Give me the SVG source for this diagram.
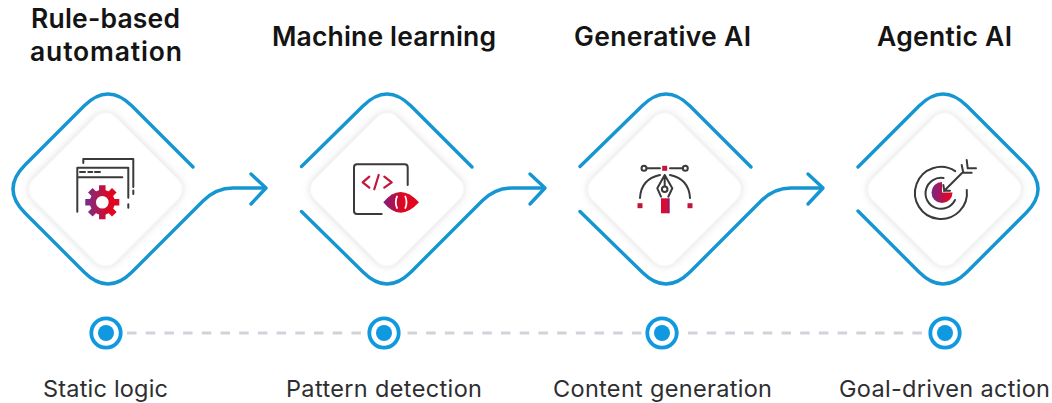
<svg xmlns="http://www.w3.org/2000/svg" width="1052" height="403" viewBox="0 0 1052 403">
<style>
.o{fill:none;stroke:#1596d2;stroke-width:3.4;stroke-linecap:round;stroke-linejoin:round}
.d{fill:none;stroke:#cfd3da;stroke-width:3;stroke-dasharray:9.5 9.2}
.r{fill:#fff;stroke:#0f99e0;stroke-width:3.8}
.c{fill:#0f99e0}
.k{fill:none;stroke:#3a3a3c;stroke-width:2;stroke-linecap:round;stroke-linejoin:round}
.h{fill:#fff;filter:url(#s)}
.t{font-family:"Inter","Liberation Sans",sans-serif;font-weight:600;font-size:26.5px;fill:#141414}
.b{font-family:"Inter","Liberation Sans",sans-serif;font-weight:400;font-size:23.5px;fill:#2e2e30}
.m{fill:#c4163c}
.n{fill:none;stroke:#c4163c;stroke-width:2.2;stroke-linecap:round;stroke-linejoin:round}
</style>
<defs>
<filter id="s" x="-30%" y="-30%" width="160%" height="160%"><feDropShadow dx="0" dy="0" stdDeviation="4" flood-color="#000" flood-opacity=".17"/></filter>
<linearGradient id="g1" gradientUnits="userSpaceOnUse" x1="85" y1="0" x2="120" y2="0"><stop offset="0" stop-color="#6f3190"/><stop offset=".7" stop-color="#e0061f"/></linearGradient>
<linearGradient id="g2" gradientUnits="userSpaceOnUse" x1="383" y1="0" x2="419" y2="0"><stop offset="0" stop-color="#7a1f7e"/><stop offset=".55" stop-color="#e0061f"/></linearGradient>
<linearGradient id="g3" gradientUnits="userSpaceOnUse" x1="661" y1="0" x2="670" y2="0"><stop offset="0" stop-color="#e0062a"/><stop offset=".6" stop-color="#d0103c"/><stop offset="1" stop-color="#7a1f7e"/></linearGradient>
<linearGradient id="g4" gradientUnits="userSpaceOnUse" x1="931" y1="0" x2="953" y2="0"><stop offset="0" stop-color="#6f2a8a"/><stop offset=".8" stop-color="#e0062a"/></linearGradient>
</defs>
<rect width="1052" height="403" fill="#fff"/>
<g id="connectors">
<path class="d" d="M127 333H930"/>
<path class="o" d="M193 167L132 106Q108 82 84 106L25 165Q1 189 25 213L84 272Q108 296 132 272L203 201Q216 188 233 188L265 188"/>
<path class="o" d="M251 174L266 188L251 204"/>
<path class="o" d="M301.500 166.500L363 106Q387 82 411 106L472 167M301.500 211.500L363 272Q387 296 411 272L482 201Q495 188 512 188L544 188"/>
<path class="o" d="M530 174L545 188L530 204"/>
<path class="o" d="M580 166.500L642 106Q666 82 690 106L751 167M580 211.500L642 272Q666 296 690 272L761 201Q774 188 791 188L822 188"/>
<path class="o" d="M808 174L823 188L808 204"/>
<path class="o" d="M858 167L919 106Q943 82 967 106L1026 165Q1050 189 1026 213L967 272Q943 296 919 272L858 211"/>
</g>
<g id="node-rule-based">
<rect class="h" x="47.600" y="131.600" width="115.700" height="115.700" rx="14" transform="rotate(45 105.500 189.500)"/>
<path class="k" d="M83.300 163V159H133.300V187M133.300 190.500V194M77.300 211.700V167.700H128.300V197.700M128.300 204.300V207.700M77.300 177.300H122.300M80 172H85M88.300 172H92.300M95 172H100"/>
<g stroke="url(#g1)" stroke-width="6.500"><path d="M85.300 202.300H119.300M102.300 185.300V219.300M90.300 190.300L114.300 214.300M90.300 214.300L114.300 190.300"/></g>
<circle cx="102.300" cy="202.300" r="12.500" fill="url(#g1)"/><circle cx="102.300" cy="202.300" r="6.300" fill="#fff"/>
<text class="t" x="31" y="28" textLength="149">Rule-based</text>
<text class="t" x="30" y="61" textLength="152">automation</text>
<circle class="r" cx="106" cy="333" r="14.700"/><circle class="c" cx="106" cy="333" r="8"/>
<text class="b" x="43" y="397" textLength="125">Static logic</text>
</g>
<g id="node-machine-learning">
<rect class="h" x="329.100" y="131.600" width="115.700" height="115.700" rx="14" transform="rotate(45 387 189.500)"/>
<path class="k" d="M407.700 185V167.300Q407.700 164.300 404.700 164.300H357Q354 164.300 354 167.300V211Q354 214 357 214H381.700"/>
<path class="n" d="M369.300 176.700L362.700 182.300L369.300 187.700M378.700 175L374.300 189.300M384.300 176.700L391.700 182.300L384.300 187.700"/>
<path fill="url(#g2)" d="M383.300 202.300Q400 181.500 419 202.300Q400 223 383.300 202.300Z"/>
<path fill="none" stroke="#fff" stroke-width="1.800" stroke-linecap="round" d="M397 196.500Q394.500 202.300 397 208M405.300 196.500Q407.800 202.300 405.300 208"/>
<text class="t" x="272" y="46" textLength="224">Machine learning</text>
<circle class="r" cx="384" cy="333" r="14.700"/><circle class="c" cx="384" cy="333" r="8"/>
<text class="b" x="286" y="397" textLength="196">Pattern detection</text>
</g>
<g id="node-generative-ai">
<rect class="h" x="606.600" y="131.600" width="115.700" height="115.700" rx="14" transform="rotate(45 664.500 189.500)"/>
<path class="k" d="M646.700 168.300H660M670 168.300H682.300M640 198Q641 179 660 175M670 175Q689 179 690 198M664.700 175L657.300 188.300L661 196.700M664.700 175L672.300 188.300L668.300 196.700M664.700 175V186"/>
<circle class="k" cx="644" cy="168.300" r="2.500"/><circle class="k" cx="685.300" cy="168.300" r="2.500"/><circle class="k" cx="664.700" cy="189.300" r="2.800"/>
<rect class="m" x="662.200" y="165.800" width="5" height="5"/><rect class="m" x="637.500" y="203.200" width="5" height="5"/><rect class="m" x="687.500" y="203.200" width="5" height="5"/>
<rect x="661" y="198.300" width="8.700" height="15" fill="url(#g3)"/>
<text class="t" x="574" y="46" textLength="177">Generative AI</text>
<circle class="r" cx="662" cy="333" r="14.700"/><circle class="c" cx="662" cy="333" r="8"/>
<text class="b" x="553" y="397" textLength="219">Content generation</text>
</g>
<g id="node-agentic-ai">
<rect class="h" x="886.600" y="131.600" width="115.700" height="115.700" rx="14" transform="rotate(45 944.500 189.500)"/>
<path fill="url(#g4)" d="M942 192.500L952.500 192.500A10.500 10.500 0 1 1 942 182Z"/>
<path class="k" d="M955.200 171.200A26 26 0 1 0 966.800 190M943.500 178A15.500 15.500 0 1 0 955 200M944 191L962 173M943.300 185L944.300 190.700L950 190.700M961.700 165L963.300 172.700L971.700 172.700M966.700 160L967.700 168.300L976 168.300"/>
<text class="t" x="877" y="46" textLength="135">Agentic AI</text>
<circle class="r" cx="945" cy="333" r="14.700"/><circle class="c" cx="945" cy="333" r="8"/>
<text class="b" x="839" y="397" textLength="211">Goal-driven action</text>
</g>
</svg>
